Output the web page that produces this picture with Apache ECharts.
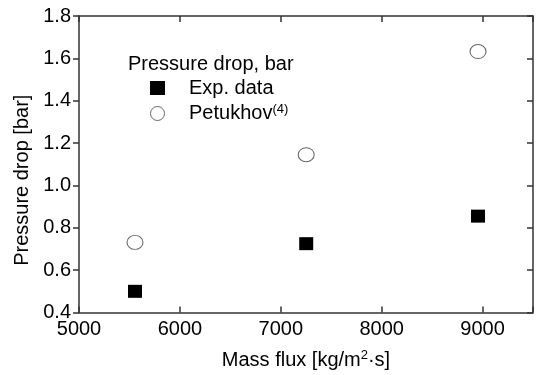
<!DOCTYPE html>
<html>
<head>
<meta charset="utf-8">
<script src="https://cdn.jsdelivr.net/npm/echarts@6/dist/echarts.min.js"></script>
<style>html,body{margin:0;padding:0;background:#fff}#c{width:536px;height:375px}</style>
</head>
<body>
<div id="c"></div>
<script>
const massFlux = [5555, 7252, 8955];
const expData = [0.50, 0.725, 0.855];
const petukhov = [0.731, 1.145, 1.632];
const legendTitle = 'Pressure drop, bar';
const seriesNames = ['Exp. data', 'Petukhov'];

const FONT = 'Liberation Sans, Arial, sans-serif';
const chart = echarts.init(document.getElementById('c'));
const axisLine = {show: true, lineStyle: {color: '#333', width: 1.5}};
chart.setOption({
  animation: false,
  backgroundColor: '#fff',
  title: {
    text: legendTitle, left: 123, top: 49,
    textStyle: {fontFamily: FONT, fontSize: 20, fontWeight: 'normal', color: '#000'}
  },
  legend: {
    orient: 'vertical', left: 145, top: 73, itemGap: 5,
    itemWidth: 15, itemHeight: 14,
    data: [
      {name: seriesNames[0]},
      {name: seriesNames[1], itemStyle: {color: '#fff', borderColor: '#666', borderWidth: 1}}
    ],
    formatter: function (n) { return n === 'Petukhov' ? '{t|Petukhov}{s|(4)}' : '{t|' + n + '}'; },
    textStyle: {
      fontFamily: FONT, fontSize: 20, color: '#000',
      rich: {
        t: {fontFamily: FONT, fontSize: 20, color: '#000', padding: [0, 0, 0, 19]},
        s: {fontFamily: FONT, fontSize: 13, color: '#000', verticalAlign: 'top', padding: [0, 0, 8, 0]}
      }
    }
  },
  grid: {left: 79, right: 2, top: 16, bottom: 61, containLabel: false},
  xAxis: [{
    type: 'value', min: 5000, max: 9500, interval: 1000,
    name: 'Mass flux [kg/m{sup|2}·s]', nameLocation: 'middle', nameGap: 36,
    nameTextStyle: {fontFamily: FONT, fontSize: 20, color: '#000',
      rich: {sup: {fontFamily: FONT, fontSize: 13, color: '#000', verticalAlign: 'top', padding: [0, 0, 10, 0]}}},
    axisLine: axisLine,
    axisTick: {show: true, inside: true, length: 6, lineStyle: {color: '#333', width: 1.5}},
    axisLabel: {fontFamily: FONT, fontSize: 20, color: '#000', margin: 7,
      formatter: function (v) { return v > 9000 ? '' : String(v); }},
    splitLine: {show: false}
  }, {
    type: 'value', position: 'top', min: 5000, max: 9500, interval: 1000,
    axisLine: axisLine,
    axisTick: {show: true, inside: true, length: 6, lineStyle: {color: '#333', width: 1.5}},
    axisLabel: {show: false}, splitLine: {show: false}
  }],
  yAxis: [{
    type: 'value', min: 0.4, max: 1.8, interval: 0.2,
    name: 'Pressure drop [bar]', nameLocation: 'middle', nameGap: 47,
    nameTextStyle: {fontFamily: FONT, fontSize: 20, color: '#000', padding: [0, 32, 0, 0]},
    axisLine: axisLine,
    axisTick: {show: true, inside: false, length: 6, lineStyle: {color: '#333', width: 1.5}},
    axisLabel: {fontFamily: FONT, fontSize: 20, color: '#000', margin: 8,
      formatter: function (v) { return v.toFixed(1); }},
    splitLine: {show: false}
  }, {
    type: 'value', position: 'right', min: 0.4, max: 1.8, interval: 0.2,
    axisLine: axisLine,
    axisTick: {show: true, inside: true, length: 6, lineStyle: {color: '#333', width: 1.5}},
    axisLabel: {show: false}, splitLine: {show: false}
  }],
  series: [{
    name: seriesNames[0], type: 'scatter', symbol: 'rect', symbolSize: [14, 13],
    itemStyle: {color: '#000', opacity: 1},
    data: massFlux.map((x, i) => [x, expData[i]])
  }, {
    name: seriesNames[1], type: 'scatter', symbol: 'circle', symbolSize: [16, 14],
    itemStyle: {color: '#fff', borderColor: '#666', borderWidth: 1, opacity: 1},
    data: massFlux.map((x, i) => [x, petukhov[i]])
  }]
});
</script>
</body>
</html>
